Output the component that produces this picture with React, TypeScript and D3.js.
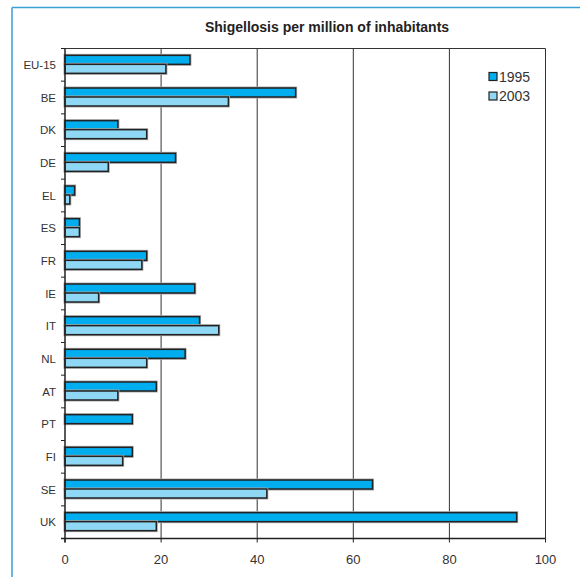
import React from "react";
import * as d3 from "d3";

const categories = ["EU-15", "BE", "DK", "DE", "EL", "ES", "FR", "IE", "IT", "NL", "AT", "PT", "FI", "SE", "UK"];
const values1995 = [26, 48, 11, 23, 2, 3, 17, 27, 28, 25, 19, 14, 14, 64, 94];
const values2003: (number | null)[] = [21, 34, 17, 9, 1, 3, 16, 7, 32, 17, 11, null, 12, 42, 19];
const seriesNames = ["1995", "2003"];
const xTicks = [0, 20, 40, 60, 80, 100];
const title = "Shigellosis per million of inhabitants";

const W = 580, H = 577;
const left = 65, right = 545.5, top = 48.5, bottom = 538.5;
const colors = ["#00adef", "#8ed8f6"];
const font = "Arial, 'Liberation Sans', Helvetica, sans-serif";

export default function App() {
  const x = d3.scaleLinear().domain([0, 100]).range([left, right]);
  const y = d3.scaleBand().domain(categories).range([top, bottom]).paddingInner(0).paddingOuter(0);
  const bw = y.bandwidth();
  const barH = 9;
  const offset = (bw - 2 * barH) / 2 - 0.5;
  const series = [values1995, values2003];

  return (
    <svg width={W} height={H} style={{ position: "absolute", left: 0, top: 0 }}>
      <rect x={0} y={0} width={W} height={H} fill="#fff" />
      <line x1={12} y1={7.5} x2={W} y2={7.5} stroke="#3a9fd6" strokeWidth={1.5} />
      <line x1={12} y1={7.5} x2={12} y2={H} stroke="#3a9fd6" strokeWidth={1.5} />
      <text x={327} y={31.5} textAnchor="middle" fontFamily={font} fontWeight="bold" fontSize={14} fill="#222">{title}</text>
      {/* gridlines */}
      {xTicks.slice(1).map((t) => (
        <line key={t} x1={x(t)} x2={x(t)} y1={top} y2={bottom} stroke="#333" strokeWidth={1} />
      ))}
      <line x1={left} x2={right} y1={top} y2={top} stroke="#333" strokeWidth={1} />
      {/* bars */}
      {series.map((vals, si) =>
        categories.map((c, i) => {
          const v = vals[i];
          if (v == null) return null;
          const yy = (y(c) as number) + offset + si * barH;
          return (
            <g key={c + si}>
              <rect x={x(0)} y={yy} width={x(v) - x(0)} height={barH} fill="none" stroke="#aaa" strokeWidth={3} />
              <rect x={x(0)} y={yy} width={x(v) - x(0)} height={barH} fill={colors[si]} stroke="#222" strokeWidth={1.5} />
            </g>
          );
        })
      )}
      {/* axes */}
      <line x1={left} x2={left} y1={top} y2={bottom + 4} stroke="#222" strokeWidth={1.5} />
      <line x1={left - 4} x2={right} y1={bottom} y2={bottom} stroke="#222" strokeWidth={1.5} />
      {categories.map((c, i) => (
        <line key={"t" + c} x1={left - 4} x2={left} y1={(y(c) as number)} y2={(y(c) as number)} stroke="#222" strokeWidth={1} />
      ))}
      {xTicks.map((t) => (
        <line key={"xt" + t} x1={x(t)} x2={x(t)} y1={bottom} y2={bottom + 4} stroke="#222" strokeWidth={1} />
      ))}
      {categories.map((c) => (
        <text key={"l" + c} x={56} y={(y(c) as number) + bw / 2 + 4} textAnchor="end" fontFamily={font} fontSize={11.5} fill="#333">{c}</text>
      ))}
      {xTicks.map((t) => (
        <text key={"xl" + t} x={x(t)} y={564} textAnchor="middle" fontFamily={font} fontSize={13} fill="#333">{t}</text>
      ))}
      {/* legend */}
      {seriesNames.map((s, i) => (
        <g key={s}>
          <rect x={489} y={72.5 + i * 19.5} width={8} height={8} fill={colors[i]} stroke="#222" strokeWidth={1.2} />
          <text x={499} y={81.5 + i * 19.5} fontFamily={font} fontSize={14} fill="#333">{s}</text>
        </g>
      ))}
    </svg>
  );
}
